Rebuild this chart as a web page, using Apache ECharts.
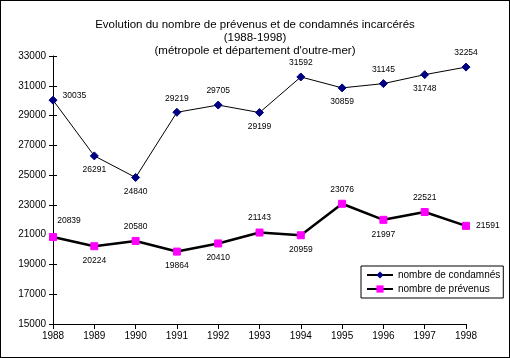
<!DOCTYPE html>
<html><head><meta charset="utf-8">
<script src="https://cdn.jsdelivr.net/npm/echarts@6/dist/echarts.min.js"></script>
<style>html,body{margin:0;padding:0;background:#fff}#c{width:510px;height:358px;box-sizing:border-box;border:1px solid #000}</style>
</head><body><div id="c"></div>
<script>
const years = ['1988','1989','1990','1991','1992','1993','1994','1995','1996','1997','1998'];
const condamnes = [30035, 26291, 24840, 29219, 29705, 29199, 31592, 30859, 31145, 31748, 32254];
const prevenus = [20839, 20224, 20580, 19864, 20410, 21143, 20959, 23076, 21997, 22521, 21591];
const condPos = ['right','bottom','bottom','top','top','bottom','top','bottom','top','bottom','top'];
const prevPos = ['top','bottom','top','bottom','bottom','top','bottom','top','bottom','top','right'];
const font = 'Liberation Sans, Arial, sans-serif';
function mk(vals, pos){
  return vals.map((v,i)=>({value:v,label:{position:pos[i], offset: pos[i]==='top' && i===0 ? [16,-2] : (pos[i]==='right' && i===0 ? [0,-4] : [0,0])}}));
}
const chart = echarts.init(document.getElementById('c'), null, {renderer:'canvas'});
const yBase = {type:'value', min:15000, max:33000, interval:2000, splitLine:{show:false}};
chart.setOption({
  backgroundColor:'#fff',
  animation:false,
  title:{
    text:'Evolution du nombre de prévenus et de condamnés incarcérés\n(1988-1998)\n(métropole et département d\'outre-mer)',
    left:'center', top:12,
    textStyle:{fontFamily:font,fontSize:11.5,fontWeight:'normal',color:'#000',lineHeight:13}
  },
  legend:{
    orient:'vertical', left:360, top:265,
    backgroundColor:'#fff', borderColor:'#000', borderWidth:1,
    padding:[4,3,4,5], itemGap:4, itemWidth:26, itemHeight:9,
    textStyle:{fontFamily:font,fontSize:10,color:'#000'},
    data:['nombre de condamnés','nombre de prévenus']
  },
  grid:{left:52,right:43,top:55,bottom:33},
  xAxis:{
    type:'category', data:years, boundaryGap:false,
    axisLine:{lineStyle:{color:'#000',width:1}},
    axisTick:{length:5,lineStyle:{color:'#000'}},
    axisLabel:{fontFamily:font,fontSize:10,color:'#000',margin:7},
    splitLine:{show:false}
  },
  yAxis:[
    Object.assign({}, yBase, {
      axisLine:{show:true,lineStyle:{color:'#000',width:1}},
      axisTick:{show:true,length:4,lineStyle:{color:'#000'}},
      axisLabel:{fontFamily:font,fontSize:10,color:'#000',margin:7,formatter:v=>String(v)}
    }),
    Object.assign({}, yBase, {
      position:'left',
      axisLine:{show:false},
      axisTick:{show:true,inside:true,length:4,lineStyle:{color:'#000'}},
      axisLabel:{show:false}
    })
  ],
  series:[
    {
      name:'nombre de condamnés', type:'line', data:mk(condamnes,condPos),
      symbol:'diamond', symbolSize:8,
      lineStyle:{color:'#000',width:1},
      itemStyle:{color:'#000080',borderColor:'#000080'},
      label:{show:true,fontFamily:font,fontSize:8.5,color:'#000',distance:5}
    },
    {
      name:'nombre de prévenus', type:'line', data:mk(prevenus,prevPos),
      symbol:'rect', symbolSize:7,
      lineStyle:{color:'#000',width:2.5},
      itemStyle:{color:'#ff00ff',borderColor:'#ff00ff'},
      label:{show:true,fontFamily:font,fontSize:8.5,color:'#000',distance:6}
    }
  ]
});
</script></body></html>
